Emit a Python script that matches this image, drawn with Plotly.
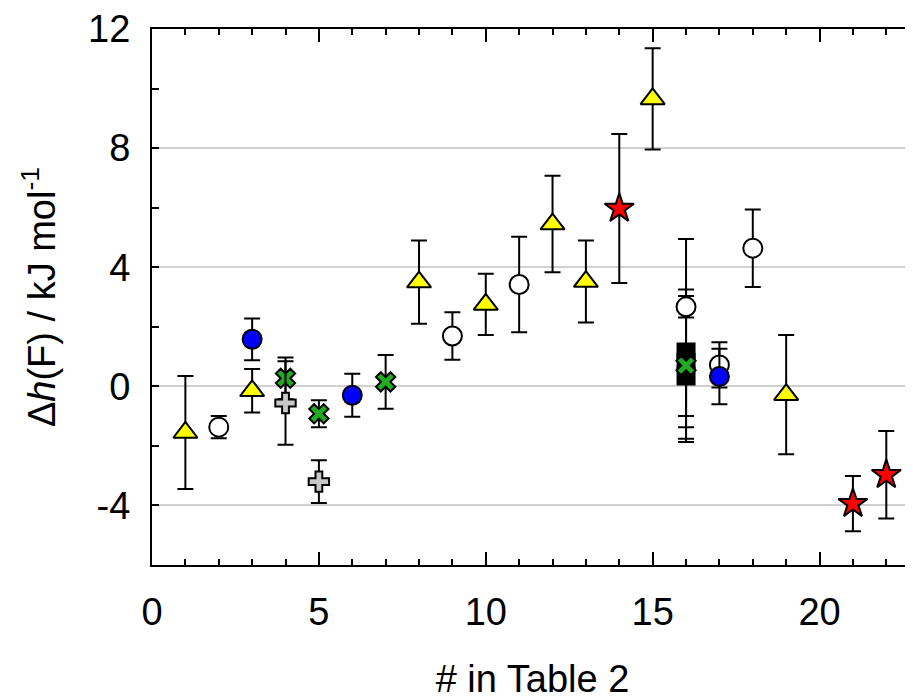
import plotly.graph_objects as go

# ---- data (x = # in Table 2, y = Δh(F) / kJ mol-1, symmetric / asymmetric errors) ----
tri_x = [1, 3, 8, 10, 12, 13, 15, 19]
tri_y = [-1.55, -0.15, 3.5, 2.75, 5.45, 3.52, 9.65, -0.28]
tri_e = [1.9, 0.73, 1.4, 1.03, 1.62, 1.38, 1.7, 2.0]

ocirc_x = [2, 9, 11, 16, 17, 18]
ocirc_y = [-1.37, 1.69, 3.42, 2.67, 0.72, 4.64]
ocirc_e = [0.37, 0.8, 1.6, 0.36, 0.76, 1.3]

bcirc_x = [3, 6, 17]
bcirc_y = [1.58, -0.3, 0.33]
bcirc_e = [0.7, 0.72, 0.93]

xmark_x = [4, 5, 7, 16]
xmark_y = [0.27, -0.92, 0.15, 0.7]
xmark_up = [0.7, 0.45, 0.9, 0.5]
xmark_dn = [0.7, 0.45, 0.9, 2.46]

cross_x = [4, 5]
cross_y = [-0.56, -3.2]
cross_e = [1.4, 0.72]

sq_x = [16, 16, 16]
sq_y = [1.15, 0.8, 0.35]
sq_up = [3.8, 2.45, 2.68]
sq_dn = [2.15, 2.17, 2.22]

star_x = [14, 21, 22]
star_y = [5.97, -3.94, -2.97]
star_e = [2.5, 0.93, 1.47]

x_ticks = [0, 5, 10, 15, 20]
y_ticks = [-4, 0, 4, 8, 12]

FONT = "Liberation Sans, Arial, sans-serif"


def err(up, dn=None):
    d = dict(type="data", array=up, color="black", thickness=2, width=8, visible=True)
    if dn is not None:
        d["symmetric"] = False
        d["arrayminus"] = dn
    return d


def mk(symbol, fill, size):
    return dict(symbol=symbol, color=fill, size=size, line=dict(color="black", width=2))


fig = go.Figure()
fig.add_trace(go.Scatter(x=sq_x, y=sq_y, mode="markers", error_y=err(sq_up, sq_dn),
                         marker=mk("square", "black", 17)))
fig.add_trace(go.Scatter(x=xmark_x, y=xmark_y, mode="markers", error_y=err(xmark_up, xmark_dn),
                         marker=mk("x", "#22aa22", 17)))
fig.add_trace(go.Scatter(x=cross_x, y=cross_y, mode="markers", error_y=err(cross_e),
                         marker=mk("cross", "#c8c8c8", 17)))
fig.add_trace(go.Scatter(x=ocirc_x, y=ocirc_y, mode="markers", error_y=err(ocirc_e),
                         marker=mk("circle", "white", 19)))
fig.add_trace(go.Scatter(x=bcirc_x, y=bcirc_y, mode="markers", error_y=err(bcirc_e),
                         marker=mk("circle", "#0000ff", 19)))
fig.add_trace(go.Scatter(x=tri_x, y=tri_y, mode="markers", error_y=err(tri_e),
                         marker=mk("triangle-up", "#ffff00", 21)))
fig.add_trace(go.Scatter(x=star_x, y=star_y, mode="markers", error_y=err(star_e),
                         marker=mk("star", "#ff0000", 22)))

fig.update_layout(
    width=905, height=692,
    margin=dict(l=144, r=0, t=21, b=135),
    plot_bgcolor="white", paper_bgcolor="white",
    showlegend=False,
    font=dict(family=FONT, color="black"),
)
fig.update_xaxes(
    range=[0, 22.8], tickvals=x_ticks, ticktext=[str(v) for v in x_ticks],
    ticks="inside", ticklen=13, tickwidth=2, tickcolor="black",
    minor=dict(dtick=1, ticks="inside", ticklen=6, tickwidth=2, tickcolor="black"),
    showline=True, linecolor="black", linewidth=2, mirror="ticks",
    showgrid=False, zeroline=False, automargin=False,
    tickfont=dict(size=38, family=FONT), ticklabelstandoff=12,
    title=dict(text="# in Table 2", font=dict(size=38, family=FONT), standoff=40),
)
fig.update_yaxes(
    range=[-6, 12], tickvals=y_ticks, ticktext=[str(v) for v in y_ticks],
    ticks="inside", ticklen=7, tickwidth=2, tickcolor="black",
    minor=dict(dtick=2, ticks="inside", ticklen=7, tickwidth=2, tickcolor="black", showgrid=False),
    showline=True, linecolor="black", linewidth=2, mirror="ticks",
    showgrid=True, gridcolor="#d0d0d0", gridwidth=1.5, zeroline=False, automargin=False,
    tickfont=dict(size=38, family=FONT), ticklabelstandoff=12,
    title=dict(text="Δ<i>h</i>(F) / kJ mol<sup>-1</sup>", font=dict(size=38, family=FONT), standoff=21),
)

fig.write_html("out.html")
